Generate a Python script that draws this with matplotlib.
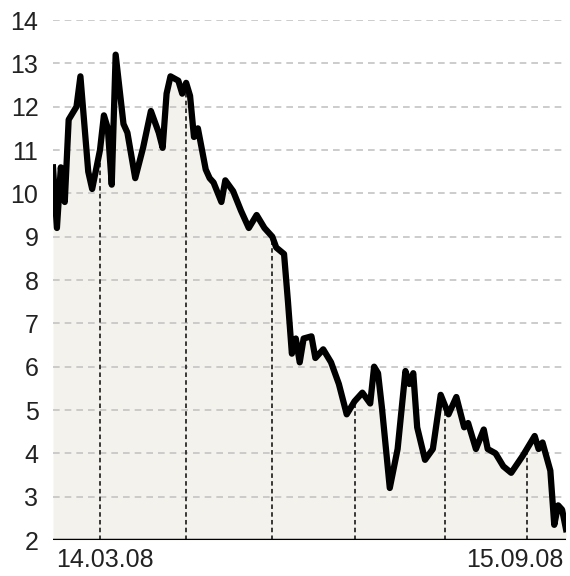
import numpy as np
import pandas as pd
import matplotlib
matplotlib.use('Agg')
import matplotlib.pyplot as plt

# trading days from 14.03.08 to 15.09.08
days = pd.bdate_range('2008-03-14', '2008-09-15')

# closing price (trading-day index, value)
day = [0, 1, 2, 3, 4, 6, 7, 9, 10, 12, 13, 14, 15, 16, 18, 19, 21, 23, 25, 27,
       28, 29, 30, 32, 33, 34, 35, 36, 37, 39, 40, 41, 43, 44, 46, 48, 50, 52, 54, 56,
       57, 59, 60, 61, 62, 63, 64, 66, 67, 69, 71, 73, 75, 77, 79, 81, 82, 83, 84, 86,
       88, 90, 91, 92, 93, 95, 97, 99, 101, 103, 105, 106, 108, 110, 111, 113, 115, 117, 120, 123,
       124, 125, 127, 128, 129, 130, 131]
price = [10.6, 9.2, 10.6, 9.8, 11.7, 12.0, 12.7, 10.5, 10.1, 11.0, 11.8, 11.5, 10.2, 13.2, 11.6, 11.4, 10.35, 11.05, 11.9, 11.4,
         11.05, 12.3, 12.7, 12.6, 12.3, 12.55, 12.25, 11.3, 11.5, 10.55, 10.35, 10.25, 9.8, 10.3, 10.05, 9.6, 9.2, 9.5, 9.2, 9.0,
         8.75, 8.6, 7.5, 6.3, 6.65, 6.1, 6.65, 6.7, 6.2, 6.4, 6.1, 5.6, 4.9, 5.2, 5.4, 5.15, 6.0, 5.85, 5.05, 3.2,
         4.1, 5.9, 5.6, 5.85, 4.6, 3.85, 4.1, 5.35, 4.9, 5.3, 4.6, 4.7, 4.1, 4.55, 4.1, 4.0, 3.7, 3.55, 3.95, 4.4,
         4.1, 4.25, 3.6, 2.35, 2.8, 2.7, 2.25]

yticks = list(range(2, 15))
xlabels = ['14.03.08', '15.09.08']

plt.rcParams['font.family'] = ['Liberation Sans', 'DejaVu Sans']

fig = plt.figure(figsize=(5.7, 5.76), dpi=100)
ax = fig.add_axes([53 / 570, 1 - 540 / 576, 513 / 570, 520 / 576])

x = np.array(day)
y = np.array(price)

ax.fill_between(x, 2, y, color='#f4f2ec', lw=0, zorder=1)

# dashed grid
for v in yticks[1:]:
    ax.axhline(v, color='#c4c4c4', lw=1.2, ls=(0, (4, 3)), zorder=2)

# month markers up to the curve
month_starts = [i for i in range(1, len(days)) if days[i].month != days[i - 1].month]
for i in month_starts:
    ax.plot([i, i], [2, np.interp(i, x, y)], color='#2a2a2a', lw=1.3,
            ls=(0, (2.5, 1.8)), zorder=3)

ax.plot(x, y, color='black', lw=4.5, solid_joinstyle='round', zorder=4)
ax.axhline(2, color='black', lw=2.5, zorder=5)

ax.set_xlim(0, len(days) - 1)
ax.set_ylim(2, 14)
for s in ax.spines.values():
    s.set_visible(False)
ax.set_xticks([])
ax.set_yticks(yticks)
ax.tick_params(axis='y', length=0, pad=10.5, labelsize=18, labelcolor='#222222')

ax.text(0.007, -0.015, xlabels[0], transform=ax.transAxes, ha='left', va='top',
        fontsize=18, color='#222222')
ax.text(0.995, -0.015, xlabels[1], transform=ax.transAxes, ha='right', va='top',
        fontsize=18, color='#222222')

fig.savefig('out.png', dpi=100)
